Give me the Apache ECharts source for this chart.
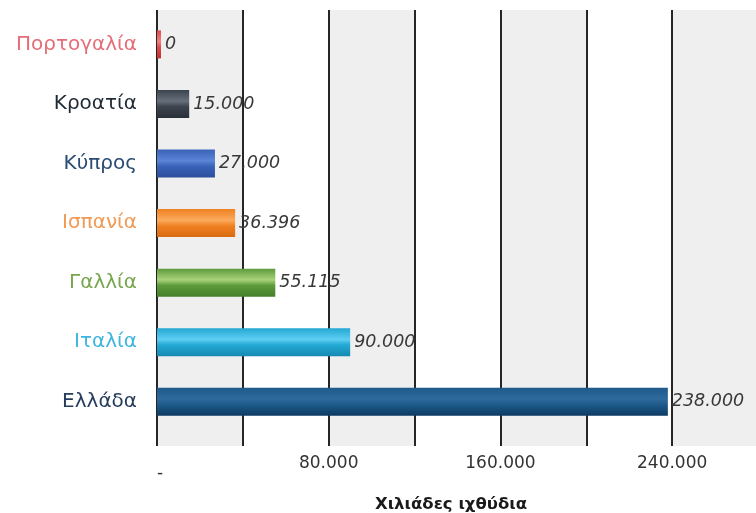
<!DOCTYPE html>
<html>
<head>
<meta charset="utf-8">
<script src="https://cdn.jsdelivr.net/npm/echarts@6/dist/echarts.min.js"></script>
<style>
  html, body { margin: 0; padding: 0; background: #ffffff; }
  #chart { width: 756px; height: 513px; }
</style>
</head>
<body>
<div id="chart"></div>
<script>
const categories = ['Πορτογαλία', 'Κροατία', 'Κύπρος', 'Ισπανία', 'Γαλλία', 'Ιταλία', 'Ελλάδα'];
const values = [0, 15000, 27000, 36396, 55115, 90000, 238000];
const labelColors = ['#e56d78', '#1f2a35', '#2b4c72', '#f19a55', '#77a64c', '#3cb5df', '#253c5c'];
const barLight = ['#f08080', '#66707c', '#5b85d6', '#fbaa5c', '#a9d27a', '#5fcdf2', '#2f6a9c'];
const barBase = ['#e04a4a', '#3b434d', '#3a62b9', '#f08122', '#5c9b3b', '#22a9d3', '#1d5a8a'];
const barDark = ['#c03030', '#2a3038', '#2c4f9c', '#d86a10', '#457f2a', '#1789b2', '#0b3a62'];
const xTickLabels = ['-', '', '80.000', '', '160.000', '', '240.000', ''];
const axisTitle = 'Χιλιάδες ιχθύδια';

const FONT = 'DejaVu Sans';
const fmt = v => String(v).replace(/\B(?=(\d{3})+(?!\d))/g, '.');

const barData = values.map((v, i) => ({
  value: v,
  itemStyle: {
    color: {
      type: 'linear', x: 0, y: 0, x2: 0, y2: 1,
      colorStops: [
        { offset: 0, color: barBase[i] },
        { offset: 0.4, color: barLight[i] },
        { offset: 0.6, color: barBase[i] },
        { offset: 1, color: barDark[i] }
      ]
    }
  }
}));

const chart = echarts.init(document.getElementById('chart'), null, { renderer: 'canvas' });
chart.setOption({
  animation: false,
  backgroundColor: '#ffffff',
  title: {
    text: axisTitle,
    left: 446,
    top: 491,
    textAlign: 'center',
    textStyle: { fontFamily: FONT, fontSize: 16.5, fontWeight: 'bold', color: '#1a1a1a' }
  },
  grid: [
    { left: 157, width: 601, top: 10, height: 436, outerBoundsMode: 'none', containLabel: false },
    { left: 157, width: 601, top: 14.6, height: 417, outerBoundsMode: 'none', containLabel: false }
  ],
  xAxis: [
    {
      gridIndex: 0, type: 'value', min: 0, max: 280000, interval: 40000,
      axisLine: { show: false }, axisTick: { show: false },
      splitLine: { show: true, lineStyle: { color: '#262626', width: 2 } },
      splitArea: { show: true, areaStyle: { color: ['#efefef', '#ffffff'] } },
      axisLabel: {
        margin: 9,
        fontFamily: FONT, fontSize: 17, color: '#333',
        formatter: (v) => {
          const t = xTickLabels[Math.round(v / 40000)] || '';
          return v === 0 ? '{d|' + t + '}' : t;
        },
        rich: { d: { fontFamily: FONT, fontSize: 17, color: '#333', padding: [10, 0, 0, 6] } }
      }
    },
    {
      gridIndex: 1, type: 'value', min: 0, max: 280000, interval: 40000, show: false,
      splitLine: { show: false }
    }
  ],
  yAxis: [
    { gridIndex: 0, type: 'value', show: false, splitLine: { show: false } },
    {
      gridIndex: 1, type: 'category', inverse: true, data: categories,
      axisLine: { show: false }, axisTick: { show: false },
      axisLabel: {
        margin: 20,
        fontFamily: FONT, fontSize: 20,
        color: (val, idx) => labelColors[idx]
      }
    }
  ],
  series: [{
    type: 'bar',
    xAxisIndex: 1, yAxisIndex: 1,
    barWidth: 28,
    barMinHeight: 4,
    data: barData,
    label: {
      show: true, position: 'right', distance: 4,
      fontFamily: FONT, fontSize: 17.5, fontStyle: 'italic', color: '#383838',
      formatter: p => fmt(p.value)
    },
    z: 3
  }]
});
</script>
</body>
</html>
